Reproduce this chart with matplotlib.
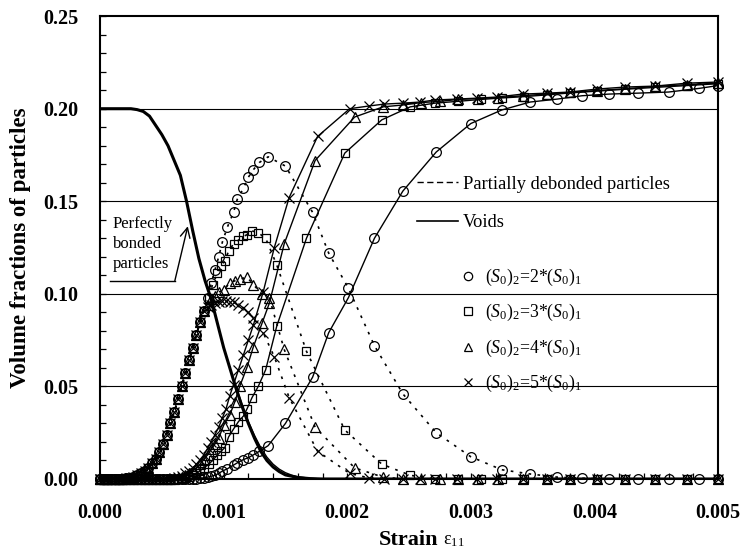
import matplotlib
matplotlib.use('Agg')
import matplotlib.pyplot as plt
from matplotlib.lines import Line2D
from matplotlib.ticker import MultipleLocator, FormatStrFormatter

plt.rcParams['font.family'] = ['Liberation Serif', 'DejaVu Serif']
plt.rcParams['mathtext.fontset'] = 'custom'
plt.rcParams['mathtext.rm'] = 'Liberation Serif'
plt.rcParams['mathtext.it'] = 'Liberation Serif:italic'
plt.rcParams['mathtext.bf'] = 'Liberation Serif:bold'

# ---------------- data ----------------
# perfectly bonded particles (common to all cases)
bonded_x = [0.0, 0.00025, 0.0003, 0.00035, 0.0004, 0.00045, 0.0005, 0.00055, 0.0006, 0.00065,
            0.0007, 0.00075, 0.0008, 0.00085, 0.0009, 0.00095, 0.001, 0.00105, 0.0011, 0.00115,
            0.0012, 0.00125, 0.0013, 0.00135, 0.0014, 0.00145, 0.0015, 0.0016, 0.0017, 0.0018, 0.005]
bonded_y = [0.2, 0.2, 0.1995, 0.1985, 0.196, 0.191, 0.186, 0.180, 0.172, 0.164,
            0.150, 0.134, 0.119, 0.107, 0.097, 0.084, 0.071, 0.060, 0.049, 0.039,
            0.030, 0.022, 0.015, 0.010, 0.0065, 0.004, 0.0022, 0.0008, 0.0002, 0.0, 0.0]
# slightly slower tail of the bonded fraction for the stiffer cases
bonded_tail_x = [0.0011, 0.00115, 0.0012, 0.00125, 0.0013, 0.00135, 0.0014, 0.00145, 0.0015,
                 0.00155, 0.0016, 0.0017, 0.0018]
bonded_tail_y = [0.050, 0.040, 0.031, 0.0235, 0.017, 0.0118, 0.0080, 0.0053, 0.0034,
                 0.0021, 0.0012, 0.0004, 0.0]

# early strain steps (shared by all cases)
early_x = [0.0, 0.00003, 0.00006, 0.00009, 0.00012, 0.00015, 0.00018, 0.00021, 0.00024, 0.00027,
           0.00030, 0.00033, 0.00036, 0.00039, 0.00042, 0.00045, 0.00048, 0.00051, 0.00054, 0.00057,
           0.00060, 0.00063, 0.00066, 0.00069, 0.00072, 0.00075, 0.00078, 0.00081, 0.00084]
early_deb = [0.0, 0.0, 0.0, 0.0, 0.0, 0.0001, 0.0002, 0.0004, 0.0007, 0.0012,
             0.002, 0.003, 0.0045, 0.0062, 0.0085, 0.011, 0.0145, 0.019, 0.024, 0.030,
             0.036, 0.043, 0.050, 0.057, 0.064, 0.071, 0.078, 0.085, 0.091]

# (S0)2 = 2*(S0)1
s2_void_early = [0.0] * 26 + [0.0002, 0.0004, 0.0007]
s2_x = [0.00087, 0.00090, 0.00093, 0.00096, 0.00099, 0.00103, 0.00108, 0.00111, 0.00116, 0.00120,
        0.00124, 0.00129, 0.00136, 0.00150, 0.00172, 0.00185, 0.00201, 0.00222, 0.00245, 0.00272,
        0.00300, 0.00325, 0.00348, 0.00370, 0.00390, 0.00412, 0.00435, 0.00460, 0.00485, 0.00500]
s2_deb = [0.098, 0.106, 0.113, 0.120, 0.128, 0.136, 0.144, 0.151, 0.157, 0.163,
          0.167, 0.171, 0.174, 0.169, 0.144, 0.122, 0.103, 0.072, 0.046, 0.025,
          0.012, 0.005, 0.0027, 0.001, 0.0004, 0.0, 0.0, 0.0, 0.0, 0.0]
s2_void = [0.001, 0.0015, 0.002, 0.003, 0.0043, 0.0055, 0.0075, 0.0087, 0.0105, 0.0115,
           0.013, 0.015, 0.018, 0.030, 0.055, 0.079, 0.098, 0.130, 0.1555, 0.1766,
           0.192, 0.1993, 0.2036, 0.2052, 0.207, 0.2079, 0.2084, 0.209, 0.211, 0.2125]

# (S0)2 = 3*(S0)1
s3_void_early = [0.0] * 23 + [0.0005, 0.001, 0.002, 0.003, 0.0045, 0.006]
s3_x = [0.00088, 0.00091, 0.00095, 0.00098, 0.00101, 0.00104, 0.00108, 0.00112, 0.00116, 0.00119,
        0.00123, 0.00128, 0.00134, 0.00143, 0.00167, 0.00198, 0.00228, 0.00251, 0.00271, 0.00290,
        0.00308, 0.00325, 0.00343, 0.00362, 0.00380, 0.00402, 0.00425, 0.00449, 0.00475, 0.00500]
s3_deb = [0.098, 0.105, 0.111, 0.115, 0.118, 0.123, 0.127, 0.129, 0.131, 0.132,
          0.134, 0.133, 0.130, 0.1156, 0.069, 0.0265, 0.008, 0.002] + [0.0] * 12
s3_void = [0.008, 0.010, 0.013, 0.015, 0.017, 0.0227, 0.027, 0.031, 0.034, 0.038,
           0.044, 0.050, 0.059, 0.0826, 0.130, 0.176, 0.194, 0.201, 0.203, 0.204,
           0.205, 0.2058, 0.2065, 0.2075, 0.2085, 0.2095, 0.2105, 0.2115, 0.2125, 0.2135]

# (S0)2 = 4*(S0)1
s4_void_early = [0.0] * 21 + [0.0005, 0.001, 0.002, 0.003, 0.0045, 0.006, 0.008, 0.0105]
s4_x = [0.00087, 0.00090, 0.00093, 0.00096, 0.00100, 0.00105, 0.00109, 0.00113, 0.00119, 0.00124,
        0.00131, 0.00137, 0.00149, 0.00174, 0.00206, 0.00229, 0.00245, 0.00260, 0.00275, 0.00290,
        0.00306, 0.00322, 0.00342, 0.00362, 0.00380, 0.00402, 0.00425, 0.00449, 0.00475, 0.00500]
s4_deb = [0.094, 0.097, 0.099, 0.101, 0.102, 0.106, 0.107, 0.108, 0.109, 0.105,
          0.100, 0.0977, 0.070, 0.028, 0.006, 0.001] + [0.0] * 14
s4_void = [0.013, 0.016, 0.019, 0.022, 0.029, 0.0346, 0.0416, 0.050, 0.0605, 0.0713,
           0.084, 0.095, 0.127, 0.172, 0.1955, 0.201, 0.202, 0.2033, 0.204, 0.205,
           0.2055, 0.206, 0.207, 0.208, 0.2088, 0.2098, 0.2108, 0.212, 0.213, 0.2138]

# (S0)2 = 5*(S0)1
s5_void_early = [0.0] * 20 + [0.0005, 0.001, 0.0018, 0.003, 0.0045, 0.006, 0.008, 0.0105, 0.013]
s5_x = [0.00087, 0.00090, 0.00093, 0.00096, 0.00099, 0.00102, 0.00105, 0.00108, 0.00112, 0.00116,
        0.00120, 0.00124, 0.00132, 0.00141, 0.00153, 0.00176, 0.00202, 0.00218, 0.00230, 0.00245,
        0.00259, 0.00271, 0.00289, 0.00305, 0.00321, 0.00342, 0.00362, 0.00380, 0.00402, 0.00425,
        0.00449, 0.00475, 0.00500]
s5_deb = [0.093, 0.094, 0.095, 0.0955, 0.096, 0.096, 0.0958, 0.0955, 0.094, 0.0925,
          0.090, 0.087, 0.079, 0.066, 0.044, 0.015, 0.003, 0.0005] + [0.0] * 15
s5_void = [0.0165, 0.020, 0.024, 0.028, 0.033, 0.038, 0.045, 0.051, 0.059, 0.067,
           0.075, 0.083, 0.101, 0.125, 0.152, 0.185, 0.200, 0.2015, 0.2025, 0.203,
           0.2036, 0.2047, 0.2052, 0.2057, 0.2063, 0.2079, 0.2084, 0.209, 0.2106, 0.2117,
           0.2122, 0.2138, 0.2144]

series_labels = [r'$(S_0)_2$=2*$(S_0)_1$', r'$(S_0)_2$=3*$(S_0)_1$',
                 r'$(S_0)_2$=4*$(S_0)_1$', r'$(S_0)_2$=5*$(S_0)_1$']

x_ticks = [0.000, 0.001, 0.002, 0.003, 0.004, 0.005]
y_ticks = [0.00, 0.05, 0.10, 0.15, 0.20, 0.25]

# ---------------- figure ----------------
fig = plt.figure(figsize=(7.41, 5.56), dpi=100)
ax = fig.add_axes([0.135, 0.1385, 0.834, 0.8325])

for yv in y_ticks[1:-1]:
    ax.axhline(yv, color='black', lw=0.8, zorder=1)

ax.plot(bonded_x, bonded_y, color='black', lw=2.2, zorder=3)
ax.plot(bonded_tail_x, bonded_tail_y, color='black', lw=1.0, zorder=3)

series = [
    (s2_x, s2_deb, s2_void_early, s2_void, 'o', 7.0),
    (s3_x, s3_deb, s3_void_early, s3_void, 's', 6.3),
    (s4_x, s4_deb, s4_void_early, s4_void, '^', 7.0),
    (s5_x, s5_deb, s5_void_early, s5_void, 'x', 7.5),
]
mk_style = dict(mfc='none', mec='black', mew=0.9, color='black', clip_on=False, zorder=4)
for sx, sdeb, sve, sv, mk, ms in series:
    xs = early_x + sx
    ax.plot(xs, early_deb + sdeb, ls=(0, (1.6, 3.8)), lw=1.2, marker=mk, ms=ms, **mk_style)
    ax.plot(xs, sve + sv, ls='-', lw=1.0, marker=mk, ms=ms, **mk_style)

ax.set_xlim(0, 0.005)
ax.set_ylim(0, 0.25)
ax.set_xticks(x_ticks)
ax.set_yticks(y_ticks)
ax.xaxis.set_major_formatter(FormatStrFormatter('%.3f'))
ax.yaxis.set_major_formatter(FormatStrFormatter('%.2f'))
ax.xaxis.set_minor_locator(MultipleLocator(0.0002))
ax.yaxis.set_minor_locator(MultipleLocator(0.01))
ax.tick_params(which='both', direction='in', length=4, width=0.9, top=False, right=False)
ax.tick_params(axis='both', which='major', labelsize=14.5)
ax.tick_params(axis='x', which='major', pad=17)
ax.tick_params(axis='y', which='major', pad=15.5)
for lab in ax.get_xticklabels() + ax.get_yticklabels():
    lab.set_fontweight('bold')
for sp in ax.spines.values():
    sp.set_linewidth(1.5)

ax.set_ylabel('Volume fractions of particles', fontsize=16.5, fontweight='bold', labelpad=9)
ax.set_xlabel('Strain', fontsize=16, fontweight='bold', labelpad=5)
ax.annotate(r'$\mathrm{ε}_{11}$', xy=(1.0, 0.24), xycoords=ax.xaxis.label,
            xytext=(3, 0), textcoords='offset points', fontsize=13,
            ha='left', va='baseline')

# line-style legend
h_lines = [Line2D([], [], color='black', ls=(0, (4.5, 2.5)), lw=1.0),
           Line2D([], [], color='black', ls='-', lw=1.2)]
leg1 = ax.legend(h_lines, ['Partially debonded particles', 'Voids'], loc='upper left',
                 bbox_to_anchor=(0.513, 0.655), frameon=False, fontsize=13.3,
                 handlelength=2.2, handletextpad=0.3, labelspacing=1.15,
                 borderpad=0, borderaxespad=0)
ax.add_artist(leg1)

h_marks = [Line2D([], [], ls='none', marker=m, ms=6, mfc='none', mec='black', mew=0.9)
           for m in ['o', 's', '^', 'x']]
leg2 = ax.legend(h_marks, series_labels, loc='upper left', bbox_to_anchor=(0.581, 0.458),
                 frameon=False, fontsize=12.8, handlelength=1.0, handletextpad=0.45,
                 labelspacing=0.8, borderpad=0, borderaxespad=0)

# perfectly bonded annotation
ax.text(0.021, 0.568, 'Perfectly\nbonded\nparticles', transform=ax.transAxes,
        fontsize=12, va='top', ha='left', linespacing=1.32)
ax.plot([0.016, 0.121], [0.428, 0.428], transform=ax.transAxes, color='black', lw=1.0)
ax.annotate('', xy=(0.142, 0.546), xytext=(0.121, 0.428),
            xycoords='axes fraction', textcoords='axes fraction',
            arrowprops=dict(arrowstyle='->,head_length=0.7,head_width=0.35', lw=1.0,
                            color='black', shrinkA=0, shrinkB=0))

fig.savefig('out.png', dpi=100)
